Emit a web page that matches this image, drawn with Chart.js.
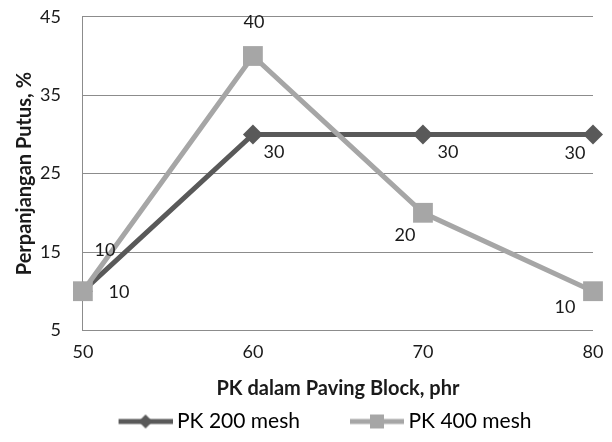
<!DOCTYPE html>
<html>
<head>
<meta charset="utf-8">
<script src="https://cdn.jsdelivr.net/npm/chart.js@4"></script>
<style>
  body { margin: 0; background: #fff; }
  #wrap { width: 612px; height: 442px; }
</style>
</head>
<body>
<div id="wrap"><canvas id="myChart" width="612" height="442"></canvas></div>
<script>
const xValues = [50, 60, 70, 80];
const pk200 = [10, 30, 30, 30];
const pk400 = [10, 40, 20, 10];
const seriesNames = ["PK 200 mesh", "PK 400 mesh"];
const yTicks = [5, 15, 25, 35, 45];

const dark = "#595959";
const light = "#a6a6a6";
const fontName = "Lato, 'Open Sans', sans-serif";
const textColor = "#1a1a1a";

// legend swatch: transparent gap on the left, then a short line with the marker
const iconW = 104, iconGap = 50;
function legendIcon(color, style) {
  const c = document.createElement("canvas");
  c.width = iconW; c.height = 22;
  const g = c.getContext("2d");
  g.strokeStyle = color; g.lineWidth = 5;
  g.beginPath(); g.moveTo(iconGap, 11); g.lineTo(iconW, 11); g.stroke();
  const mid = (iconGap + iconW) / 2;
  g.fillStyle = color;
  g.beginPath();
  if (style === "diamond") {
    g.moveTo(mid, 4); g.lineTo(mid + 7, 11); g.lineTo(mid, 18); g.lineTo(mid - 7, 11);
  } else {
    g.rect(mid - 7, 4, 14, 14);
  }
  g.fill();
  return c;
}

// value labels, offsets per point as they sit in the picture
const labelOffsets = [
  [[36, 1], [21, 18], [25, 18], [-18, 19]],
  [[22, -41], [1, -34], [-18, 22], [-28, 16]]
];
const valueLabels = {
  id: "valueLabels",
  afterDatasetsDraw(chart) {
    const ctx = chart.ctx;
    ctx.save();
    ctx.font = "18px " + fontName;
    ctx.fillStyle = textColor;
    ctx.textAlign = "center";
    ctx.textBaseline = "middle";
    chart.data.datasets.forEach((ds, i) => {
      chart.getDatasetMeta(i).data.forEach((pt, j) => {
        const off = labelOffsets[i][j];
        ctx.fillText(ds.data[j].y, pt.x + off[0], pt.y + off[1]);
      });
    });
    ctx.restore();
  }
};

const ctx = document.getElementById("myChart").getContext("2d");
const myChart = new Chart(ctx, {
  type: "line",
  data: {
    datasets: [
      {
        label: seriesNames[0],
        data: xValues.map((x, i) => ({ x: x, y: pk200[i] })),
        borderColor: dark,
        backgroundColor: dark,
        borderWidth: 5,
        pointStyle: "rectRot",
        pointRadius: 10,
        pointHoverRadius: 10,
        pointBorderWidth: 0,
        clip: false,
        order: 2
      },
      {
        label: seriesNames[1],
        data: xValues.map((x, i) => ({ x: x, y: pk400[i] })),
        borderColor: light,
        backgroundColor: light,
        borderWidth: 5,
        pointStyle: "rect",
        pointRadius: 14,
        pointHoverRadius: 14,
        pointBorderWidth: 0,
        clip: false,
        order: 1
      }
    ]
  },
  options: {
    responsive: false,
    animation: false,
    devicePixelRatio: 1,
    layout: { autoPadding: false, padding: { top: 0, right: 19, left: 13, bottom: 0 } },
    scales: {
      x: {
        type: "linear",
        min: 50,
        max: 80,
        grid: { display: true, color: "rgba(0,0,0,0)", drawTicks: true, tickLength: 5, tickColor: "rgba(0,0,0,0)" },
        border: { display: false },
        ticks: {
          stepSize: 10,
          padding: 6,
          color: textColor,
          font: { family: fontName, size: 18 }
        },
        title: {
          display: true,
          text: "PK dalam Paving Block, phr",
          color: textColor,
          font: { family: fontName, size: 20, weight: "bold" },
          padding: { top: 8, bottom: 4 }
        }
      },
      y: {
        min: 5,
        max: 45,
        afterBuildTicks(axis) { axis.ticks = yTicks.map(v => ({ value: v })); },
        grid: { color: "#8c8c8c", lineWidth: 1, drawTicks: true, tickLength: 16, tickColor: "rgba(0,0,0,0)" },
        border: { display: true, color: "#8c8c8c", width: 1 },
        ticks: {
          padding: 6,
          color: textColor,
          font: { family: fontName, size: 18 }
        },
        title: {
          display: true,
          text: "Perpanjangan Putus, %",
          color: textColor,
          font: { family: fontName, size: 20, weight: "bold" },
          padding: { top: 0, bottom: -3 }
        }
      }
    },
    plugins: {
      legend: {
        position: "bottom",
        labels: {
          usePointStyle: true,
          pointStyleWidth: iconW - 12,
          boxHeight: 22,
          padding: 6,
          color: textColor,
          font: { family: fontName, size: 21 },
          generateLabels(chart) {
            return chart.data.datasets.map((ds, i) => ({
              text: ds.label,
              pointStyle: legendIcon(ds.borderColor, i === 0 ? "diamond" : "square"),
              fillStyle: ds.borderColor,
              strokeStyle: ds.borderColor,
              lineWidth: 0,
              hidden: false,
              datasetIndex: i
            }));
          }
        }
      },
      tooltip: { enabled: false }
    }
  },
  plugins: [valueLabels]
});
</script>
</body>
</html>
